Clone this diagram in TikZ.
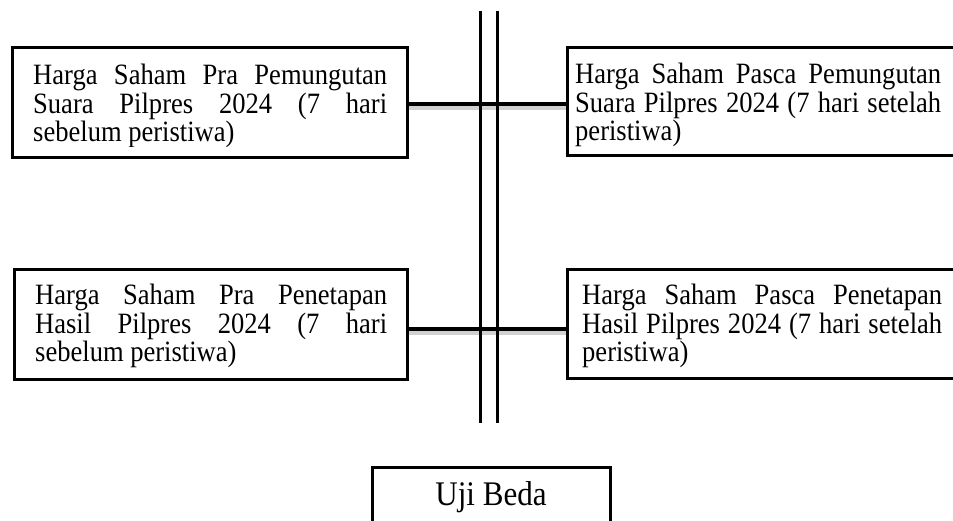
\documentclass[tikz,border=0pt]{standalone}
\usepackage{fontspec}
\setmainfont{Liberation Serif}
\newfontfamily\tallserif[FakeStretch=0.9]{Liberation Serif}
\tolerance=9999
\hyphenpenalty=10000
\exhyphenpenalty=10000
\emergencystretch=20pt
\lineskiplimit=-10pt
\newcommand{\boxfont}{\tallserif\fontsize{29.5}{28.5}\selectfont}
\newcommand{\ujifont}{\tallserif\fontsize{34.5}{36}\selectfont}
\begin{document}
\begin{tikzpicture}[x=1pt,y=-1pt,
  boxnode/.style={draw=black, line width=3pt, rectangle, inner sep=0pt},
  txt/.style={inner sep=0pt, anchor=base west, align=justify, font={\boxfont}},
  conn/.style={line width=4pt},
  shade/.style={line width=5pt, draw=black!18},
  vline/.style={line width=3pt}]
\useasboundingbox[fill=white] (0,0) rectangle (953,521);

% boxes
\node[boxnode, minimum width=395pt, minimum height=110pt] (b1) at (210,102.5) {};
\node[boxnode, minimum width=391pt, minimum height=108pt] (b2) at (763,102) {};
\node[boxnode, minimum width=393.5pt, minimum height=110pt] (b3) at (210.75,324.5) {};
\node[boxnode, minimum width=391pt, minimum height=108.5pt] (b4) at (763,323.75) {};
\node[boxnode, minimum width=237.5pt, minimum height=72.5pt] (b5) at (491.25,503.75) {};

% texts (clipped like the reference text boxes)
\begin{scope}
\clip (0,0) rectangle (953,147);
\node[txt, text width=354pt] (t1) at (33,85) {Harga Saham Pra Pemungutan Suara Pilpres 2024 (7 hari sebelum peristiwa)};
\node[txt, text width=366pt] (t2) at (575,84) {Harga Saham Pasca Pemungutan Suara Pilpres 2024 (7 hari setelah peristiwa)};
\end{scope}
\begin{scope}
\clip (0,200) rectangle (953,368);
\node[txt, text width=352pt] (t3) at (35,305) {Harga Saham Pra Penetapan Hasil Pilpres 2024 (7 hari sebelum peristiwa)};
\node[txt, text width=360pt] (t4) at (582,305) {Harga Saham Pasca Penetapan Hasil Pilpres 2024 (7 hari setelah peristiwa)};
\end{scope}
\node[inner sep=0pt, anchor=base, font={\ujifont}] (t5) at (491,505) {Uji Beda};

% vertical double line
\coordinate (v1t) at (480,11);
\coordinate (v1b) at (480,423);
\coordinate (v2t) at (497,11);
\coordinate (v2b) at (497,423);

% connector shadows
\draw[shade] ([yshift=-5pt]b1.east) -- ([yshift=-5pt]b1.east -| b2.west);
\draw[shade] ([yshift=-8pt]b3.east) -- ([yshift=-8pt]b3.east -| b4.west);

\draw[vline] (v1t) -- (v1b);
\draw[vline] (v2t) -- (v2b);

% connectors
\draw[conn] ([yshift=-1.5pt]b1.east) -- ([yshift=-1.5pt]b1.east -| b2.west);
\draw[conn] ([yshift=-4.5pt]b3.east) -- ([yshift=-4.5pt]b3.east -| b4.west);
\end{tikzpicture}
\end{document}
